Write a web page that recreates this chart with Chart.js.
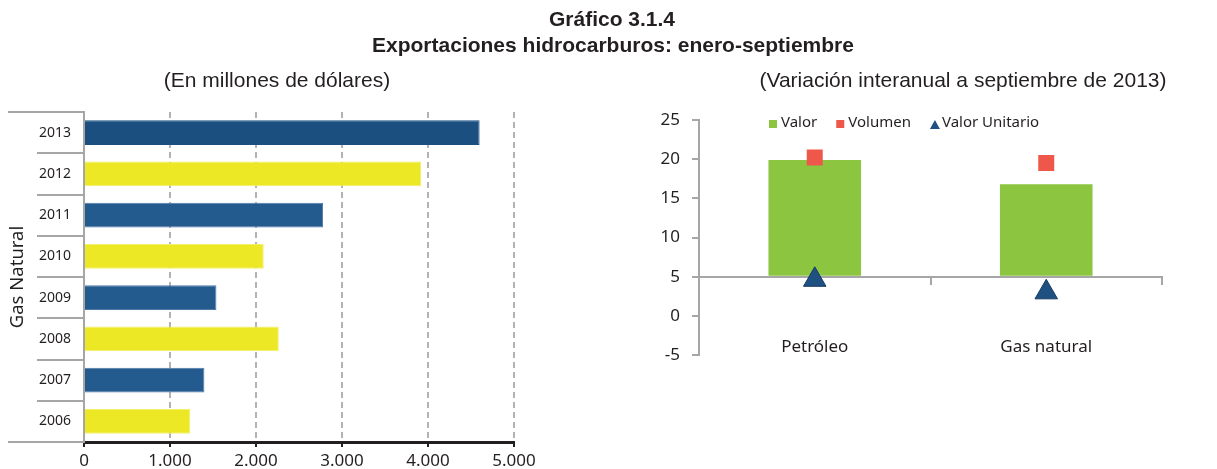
<!DOCTYPE html>
<html>
<head>
<meta charset="utf-8">
<script src="https://cdn.jsdelivr.net/npm/chart.js@4.4.0/dist/chart.umd.min.js"></script>
<style>
  body { margin: 0; background: #fff; width: 1217px; height: 469px; position: relative; overflow: hidden;
         font-family: "Liberation Sans", Arial, sans-serif; color: #231f20; }
  canvas { position: absolute; top: 0; }
  .t { position: absolute; white-space: nowrap; transform: translateX(-50%); font-size: 21px; line-height: 24px; z-index: 2; }
  .b { font-weight: bold; }
</style>
</head>
<body>
<canvas id="gasChart" width="545" height="469" style="left:0"></canvas>
<canvas id="varChart" width="617" height="469" style="left:600px"></canvas>

<div class="t b" style="left:612px;top:7px">Gráfico 3.1.4</div>
<div class="t b" style="left:613px;top:33px">Exportaciones hidrocarburos: enero-septiembre</div>
<div class="t" style="left:277px;top:68px">(En millones de dólares)</div>
<div class="t" style="left:963px;top:68px">(Variación interanual a septiembre de 2013)</div>

<script>
// left: gas natural exports, millions of dollars
const years = ['2013', '2012', '2011', '2010', '2009', '2008', '2007', '2006'];
const gasExports = [4600, 3920, 2780, 2090, 1540, 2265, 1400, 1235];
const gasTicks = [0, 1000, 2000, 3000, 4000, 5000];

// right: year-on-year change, %
const products = ['Petróleo', 'Gas natural'];
const valor = [19.9, 16.8];
const volumen = [20.2, 19.5];
const valorUnitario = [4.6, 3.0];
const varTicks = [-5, 0, 5, 10, 15, 20, 25];

const ink = '#231f20';
const axisGray = '#a6a6a6';
const clear = 'rgba(0,0,0,0)';
const blue = '#245b8f', darkBlue = '#1b4f80', yellow = '#ece825';

const thousands = v => String(v).replace(/\B(?=(\d{3})+(?!\d))/g, '.');

new Chart(document.getElementById('gasChart'), {
    type: 'bar',
    data: {
        labels: years,
        datasets: [{
            data: gasExports,
            backgroundColor: [darkBlue, yellow, blue, yellow, blue, yellow, blue, yellow],
            borderColor: [darkBlue, '#f2ef6a', '#4d79a8', '#f2ef6a', '#4d79a8', '#f2ef6a', '#4d79a8', '#f2ef6a'],
            borderWidth: 1,
            barPercentage: 0.6,
            categoryPercentage: 1
        }]
    },
    options: {
        indexAxis: 'y',
        responsive: false,
        animation: false,
        layout: { padding: { top: 112, right: 31, left: 0, bottom: 0 } },
        plugins: { legend: { display: false }, tooltip: { enabled: false } },
        scales: {
            x: {
                min: gasTicks[0],
                max: gasTicks[gasTicks.length - 1],
                afterBuildTicks: s => { s.ticks = gasTicks.map(v => ({ value: v })); },
                ticks: { callback: v => thousands(v), font: { family: 'Noto Sans', size: 17 }, color: ink, padding: 4 },
                grid: {
                    color: c => c.index === 0 ? clear : '#b3b3b3',
                    lineWidth: 2,
                    tickLength: 5,
                    tickColor: ink,
                    tickWidth: 2,
                    tickBorderDash: []
                },
                border: { color: ink, width: 3, dash: [6, 4] },
                afterFit: s => { s.height = 27; }
            },
            // inner category level: years, with short separators
            y: {
                ticks: { font: { family: 'Noto Sans', size: 14 }, color: ink, padding: -34 },
                grid: { drawOnChartArea: false, tickLength: 47, color: axisGray, lineWidth: 2 },
                border: { color: axisGray, width: 2 },
                afterFit: s => { s.width = 47; }
            },
            // outer category level: "Gas Natural", separators only at both ends
            yGroup: {
                type: 'category',
                axis: 'y',
                position: 'left',
                offset: true,
                ticks: { display: false },
                grid: {
                    offset: true,
                    drawOnChartArea: false,
                    tickLength: 29,
                    lineWidth: 2,
                    // the closing line after the last year gets the scale context
                    color: c => (c.index === 0 || c.type === 'scale') ? axisGray : clear
                },
                border: { display: false },
                title: {
                    display: true, text: 'Gas Natural', color: ink,
                    font: { family: 'Noto Sans', size: 18.5 }, padding: { top: 7, bottom: 0 }
                },
                afterFit: s => { s.width = 37; }
            }
        }
    }
});

// legend drawn inside the plot area, as in the original
const insideLegend = {
    id: 'insideLegend',
    afterDatasetsDraw(chart) {
        const { ctx, chartArea } = chart;
        ctx.save();
        ctx.font = '15px "Noto Sans"';
        ctx.textBaseline = 'middle';
        let x = chartArea.left + 70;
        const y = chartArea.top + 3;
        chart.data.datasets.forEach(ds => {
            ctx.fillStyle = ds.backgroundColor;
            if (ds.pointStyle === 'triangle') {
                ctx.beginPath();
                ctx.moveTo(x + 5, y - 3);
                ctx.lineTo(x + 10, y + 6);
                ctx.lineTo(x, y + 6);
                ctx.closePath();
                ctx.fill();
            } else {
                ctx.fillRect(x, y - 3, 8, 8);
            }
            ctx.fillStyle = ink;
            ctx.fillText(ds.label, x + 12, y);
            x += 12 + ctx.measureText(ds.label).width + 19;
        });
        ctx.restore();
    }
};

new Chart(document.getElementById('varChart'), {
    data: {
        labels: products,
        datasets: [
            {
                type: 'bar', label: 'Valor', data: valor, base: 5,
                backgroundColor: '#8cc540', pointStyle: 'rect',
                barPercentage: 0.4, categoryPercentage: 1, order: 2
            },
            {
                type: 'line', label: 'Volumen', data: volumen, showLine: false,
                pointStyle: 'rect', pointRadius: 11.3, backgroundColor: '#ef574a',
                borderColor: '#ef574a', pointBorderWidth: 0, order: 1
            },
            {
                type: 'line', label: 'Valor Unitario', data: valorUnitario, showLine: false,
                pointStyle: 'triangle', pointRadius: 13, backgroundColor: '#1f5082',
                borderColor: '#163b61', pointBorderWidth: 1, order: 0
            }
        ]
    },
    options: {
        responsive: false,
        animation: false,
        layout: { padding: { top: 120, right: 55, left: 0, bottom: 0 } },
        plugins: { legend: { display: false }, tooltip: { enabled: false } },
        scales: {
            x: {
                offset: true,
                grid: { display: false, drawTicks: false },
                border: { display: false },
                // labels sit just above the bottom of the plot, like Excel's "low" labels
                ticks: { mirror: true, font: { family: 'Noto Sans', size: 17 }, color: ink, padding: -2 },
                afterFit: s => { s.height = 114; }
            },
            x2: {
                type: 'category',
                axis: 'x',
                position: { y: 5 },
                offset: true,
                grid: { offset: true, drawOnChartArea: false, tickLength: 7, color: axisGray, lineWidth: 2 },
                border: { color: axisGray, width: 2 },
                ticks: { display: false }
            },
            y: {
                min: varTicks[0],
                max: varTicks[varTicks.length - 1],
                afterBuildTicks: s => { s.ticks = varTicks.map(v => ({ value: v })); },
                ticks: { font: { family: 'Noto Sans', size: 17 }, color: ink, padding: 12 },
                grid: { drawOnChartArea: false, tickLength: 7, color: axisGray, lineWidth: 2 },
                border: { color: axisGray, width: 2 },
                afterFit: s => { s.width = 99; }
            }
        }
    },
    plugins: [insideLegend]
});
</script>
</body>
</html>
